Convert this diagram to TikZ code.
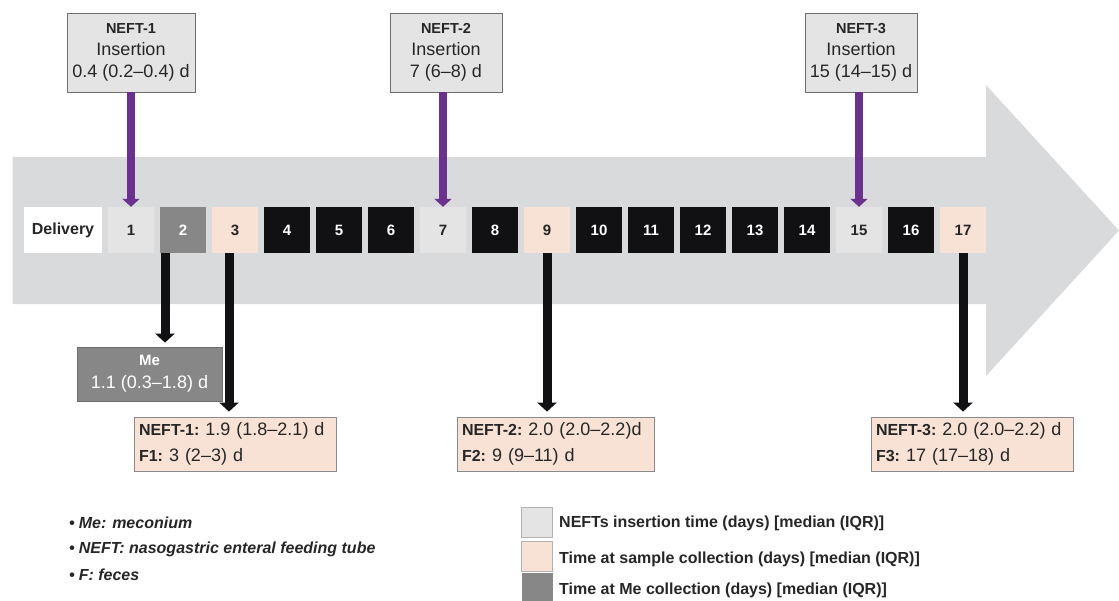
\documentclass[tikz,border=0pt]{standalone}
\usepackage{fontspec}
\setmainfont{Liberation Sans}
\usetikzlibrary{arrows.meta}
\definecolor{bodygray}{HTML}{D9DADC}
\definecolor{insgray}{HTML}{E4E4E4}
\definecolor{megray}{HTML}{878787}
\definecolor{peach}{HTML}{F8E2D5}
\definecolor{blk}{HTML}{111114}
\definecolor{purp}{HTML}{6A318E}
\definecolor{bordergray}{HTML}{6E6E6E}
\tikzset{
  day/.style={minimum width=46pt,minimum height=46pt,inner sep=0pt,font=\fontsize{15}{18}\selectfont\bfseries},
  dayins/.style={day,fill=insgray,text=black!85},
  dayme/.style={day,fill=megray,text=white},
  daycol/.style={day,fill=peach,text=black!85},
  dayblk/.style={day,fill=blk,text=white},
  topbox/.style={draw=bordergray,line width=0.8pt,fill=insgray,align=center,inner sep=0pt,minimum height=79pt,font=\fontsize{18}{22}\selectfont,text=black!85},
  colbox/.style={draw=bordergray!80,line width=0.8pt,fill=peach,align=left,inner xsep=5pt,inner ysep=0pt,minimum height=54pt,font=\fontsize{18}{26}\selectfont,text=black!85},
  mebox/.style={draw=bordergray,line width=0.8pt,fill=megray,align=center,inner sep=0pt,minimum width=145pt,minimum height=54pt,font=\fontsize{18}{23}\selectfont,text=white},
  insarrow/.style={draw=purp,line width=7.5pt,-{Triangle[width=17pt,length=8pt]}},
  colarrow/.style={draw=blk,line width=9pt,-{Triangle[width=19pt,length=9pt]}},
  legsq/.style={minimum width=31pt,minimum height=30pt,inner sep=0pt},
  legtext/.style={anchor=west,inner sep=0pt,font=\fontsize{16}{18}\selectfont\bfseries,text=black!85},
  notetext/.style={anchor=west,inner sep=0pt,font=\fontsize{16}{18}\selectfont\bfseries\itshape,text=black!85}
}
\newcommand{\bl}[1]{{\fontsize{16}{26}\selectfont\bfseries #1}}
\begin{document}
\begin{tikzpicture}[x=1pt,y=-1pt]
\useasboundingbox (0,0) rectangle (1119,600);
% big timeline arrow
\fill[bodygray] (12.7,157) -- (986,157) -- (986,85) -- (1119,230.5) -- (986,376) -- (986,304) -- (12.7,304) -- cycle;
% delivery
\node[day,fill=white,minimum width=78pt,font=\fontsize{16}{18}\selectfont\bfseries,text=black!85] (del) at (63,230) {Delivery};
% days
\foreach \k/\st in {1/dayins,2/dayme,3/daycol,4/dayblk,5/dayblk,6/dayblk,7/dayins,8/dayblk,9/daycol,10/dayblk,11/dayblk,12/dayblk,13/dayblk,14/dayblk,15/dayins,16/dayblk,17/daycol}{
  \node[\st] (d\k) at ({131+52*(\k-1)},230) {\k};
}
% insertion boxes
\node[topbox,minimum width=128pt] (n1) at (131,52.5) {{\fontsize{14.5}{22}\selectfont\bfseries NEFT-1}\\Insertion\\0.4 (0.2–0.4) d};
\node[topbox,minimum width=112pt] (n2) at (446,52.5) {{\fontsize{14.5}{22}\selectfont\bfseries NEFT-2}\\Insertion\\7 (6–8) d};
\node[topbox,minimum width=112pt] (n3) at (861,52.5) {{\fontsize{14.5}{22}\selectfont\bfseries NEFT-3}\\Insertion\\15 (14–15) d};
\draw[insarrow] (n1.south -| d1.north) -- (d1.north);
\draw[insarrow] (n2.south -| d7.north) -- (d7.north);
\draw[insarrow] (n3.south -| d15.north) -- (d15.north);
% meconium box
\node[mebox] (me) at (149.5,374) {{\fontsize{15}{23}\selectfont\bfseries Me}\\1.1 (0.3–1.8) d};
\coordinate (m2) at (165,253);
\draw[colarrow,shorten >=4pt] (m2) -- (me.north -| m2);
% collection boxes
\node[colbox,text width=192pt] (c1) at (235,444) {\bl{NEFT-1:\ }1.9 (1.8–2.1) d\\\bl{F1:\ }3 (2–3) d};
\node[colbox,text width=187pt] (c2) at (555.5,444) {\bl{NEFT-2:\ }2.0 (2.0–2.2)d\\\bl{F2:\ }9 (9–11) d};
\node[colbox,text width=192pt] (c3) at (972,444) {\bl{NEFT-3:\ }2.0 (2.0–2.2) d\\\bl{F3:\ }17 (17–18) d};
\coordinate (a3) at (229,253);
\draw[colarrow,shorten >=5pt] (a3) -- (c1.north -| a3);
\draw[colarrow,shorten >=5pt] (d9.south) -- (c2.north -| d9.south);
\draw[colarrow,shorten >=5pt] (d17.south) -- (c3.north -| d17.south);
% notes
\node[notetext] (t1) at (69,523) {•\hspace{4pt}Me: meconium};
\node[notetext] (t2) at (69,549) {•\hspace{4pt}NEFT: nasogastric enteral feeding tube};
\node[notetext] (t3) at (69,575) {•\hspace{4pt}F: feces};
% legend
\node[legsq,fill=insgray,draw=black!30,line width=0.8pt] (l1) at (536.5,522) {};
\node[legsq,fill=peach,draw=black!30,line width=0.8pt] (l2) at (536.5,556) {};
\node[legsq,fill=megray] (l3) at (537,588) {};
\node[legtext] (lt1) at (559,523) {NEFTs insertion time (days) [median (IQR)]};
\node[legtext] (lt2) at (559,559) {Time at sample collection (days) [median (IQR)]};
\node[legtext] (lt3) at (559,590) {Time at Me collection (days) [median (IQR)]};
\end{tikzpicture}
\end{document}
